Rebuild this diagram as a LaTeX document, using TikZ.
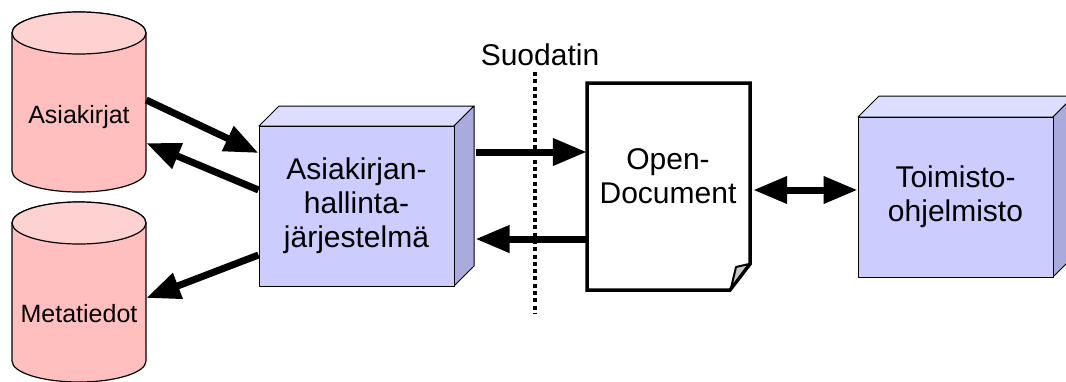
\documentclass[tikz,border=0pt]{standalone}
\usepackage{fontspec}
\setmainfont{Liberation Sans}
\usetikzlibrary{arrows.meta}
\definecolor{cylbody}{RGB}{255,191,191}
\definecolor{cyltop}{RGB}{255,210,210}
\definecolor{boxfront}{RGB}{204,204,255}
\definecolor{boxtop}{RGB}{221,221,255}
\definecolor{boxside}{RGB}{170,170,221}
\definecolor{foldgrey}{RGB}{200,200,200}
\begin{document}
\begin{tikzpicture}[x=1pt,y=-1pt,
  flow/.style={line width=7pt,-{Triangle[length=34pt,width=26pt]}},
  flowboth/.style={line width=7pt,{Triangle[length=34pt,width=26pt]}-{Triangle[length=34pt,width=26pt]}},
  cyltext/.style={font=\fontsize{25}{30}\selectfont, align=center, inner sep=0pt},
  boxtext/.style={font=\fontsize{30}{34}\selectfont, align=center, inner sep=0pt},
  anchorbox/.style={inner sep=0pt, outline width=0pt},
  cylline/.style={draw=black, line width=1.2pt},
  boxline/.style={draw=black, line width=1pt, line join=round},
  dotline/.style={line width=4pt, dash pattern=on 4pt off 3.3pt},
  outline width/.style={}
]
\useasboundingbox (0,0) rectangle (1066,381);
\clip (0,0) rectangle (1066,381);

% cylinder 1
\path[fill=cylbody, cylline] (12,33) -- (12,171) arc[start angle=180, end angle=360, x radius=67pt, y radius=21pt] -- (146,33) arc[start angle=0, end angle=180, x radius=67pt, y radius=21pt] -- cycle;
\path[fill=cyltop, cylline] (79,33) ellipse[x radius=67pt, y radius=21pt];
\node[anchorbox, minimum width=134pt, minimum height=181pt] (cyl1) at (79,102.5) {};
\node[cyltext] (t1) at (79,117.5) {Asiakirjat};

% cylinder 2
\path[fill=cylbody, cylline] (12,223) -- (12,361) arc[start angle=180, end angle=360, x radius=67pt, y radius=21pt] -- (146,223) arc[start angle=0, end angle=180, x radius=67pt, y radius=21pt] -- cycle;
\path[fill=cyltop, cylline] (79,223) ellipse[x radius=67pt, y radius=21pt];
\node[anchorbox, minimum width=134pt, minimum height=180pt] (cyl2) at (79,292) {};
\node[cyltext] (t2) at (79,314) {Metatiedot};

% box 1
\path[fill=boxtop, boxline] (259,126) -- (279,106) -- (474,106) -- (454,126) -- cycle;
\path[fill=boxside, boxline] (454,126) -- (474,106) -- (474,266) -- (454,286) -- cycle;
\node[boxtext, fill=boxfront, boxline, minimum width=195pt, minimum height=160pt] (box1) at (356.5,206) {Asiakirjan-\\hallinta-\\järjestelmä};

% box 2
\path[fill=boxtop, boxline] (858,117) -- (879,96) -- (1074,96) -- (1053,117) -- cycle;
\path[fill=boxside, boxline] (1053,117) -- (1074,96) -- (1074,256) -- (1053,277) -- cycle;
\node[boxtext, fill=boxfront, boxline, minimum width=195pt, minimum height=160pt] (box2) at (955.5,197) {Toimisto-\\ohjelmisto};

% document
\path[fill=white, draw=black, line width=3.5pt, line join=miter] (587,83) -- (750,83) -- (750,264) -- (730,290) -- (587,290) -- cycle;
\path[fill=foldgrey, draw=black, line width=2pt, line join=round] (736,267) -- (749,264) -- (731,288) -- cycle;
\node[anchorbox, minimum width=163pt, minimum height=207pt] (doc) at (668.5,186.5) {};
\node[boxtext] (tdoc) at (668,176) {Open-\\Document};

% arrows
\draw[flow] ([yshift=2.5pt]cyl1.east) -- ([yshift=53pt]box1.west);
\draw[flow] ([yshift=16pt]box1.west) -- ([yshift=-40.5pt]cyl1.east);
\draw[flow] ([yshift=-49pt]box1.west) -- ([yshift=-6pt]cyl2.east);
\draw[flow] ([xshift=21pt,yshift=54pt]box1.east) -- ([yshift=34.5pt]doc.west);
\draw[flow] ([yshift=-52.5pt]doc.west) -- ([xshift=21pt,yshift=-33pt]box1.east);
\draw[flowboth] ([xshift=3pt,yshift=-3.5pt]doc.east) -- ([yshift=7pt]box2.west);

% filter
\node[boxtext] (filt) at (540,55) {Suodatin};
\coordinate (ftop) at (535,72);
\coordinate (fbot) at (535,313);
\draw[dotline] (ftop) -- (fbot);
\end{tikzpicture}
\end{document}
